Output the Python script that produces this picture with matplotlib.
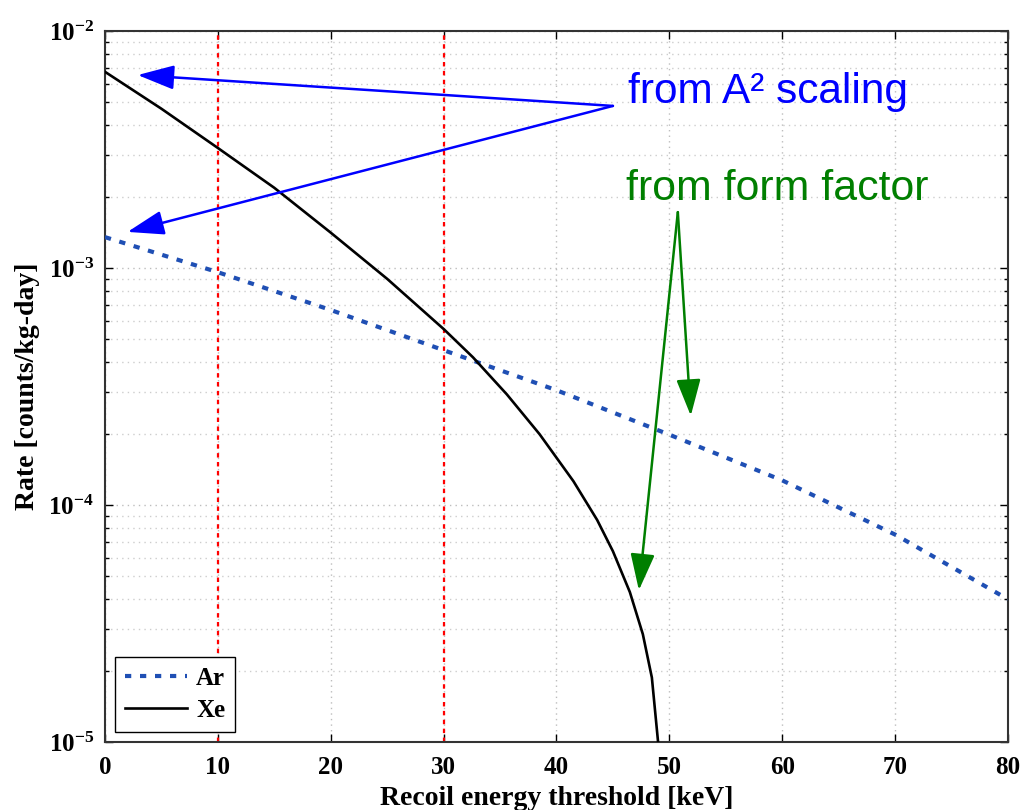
import numpy as np
import matplotlib
matplotlib.use('Agg')
import matplotlib.pyplot as plt
from matplotlib.ticker import FixedLocator, FixedFormatter, LogLocator, NullFormatter

# recoil energy threshold [keV] and integrated rate [counts/kg-day]
ar_kev = [0, 10, 20, 30, 40, 50, 60, 70, 80]
ar_rate = [1.35e-3, 9.6e-4, 6.65e-4, 4.5e-4, 3.05e-4, 1.98e-4, 1.27e-4, 7.5e-5, 4.0e-5]

xe_kev = [0, 5, 10, 15, 20, 25, 30, 32.6, 35.6, 38.5, 41.5, 43.6, 45.0,
          46.5, 47.65, 48.45, 49.0]
xe_rate = [6.73e-3, 4.70e-3, 3.21e-3, 2.18e-3, 1.41e-3, 9.0e-4, 5.53e-4, 4.2e-4,
           2.93e-4, 1.99e-4, 1.26e-4, 8.65e-5, 6.38e-5, 4.29e-5, 2.85e-5, 1.87e-5, 1.0e-5]

thresholds = [10, 30]
x_ticks = [0, 10, 20, 30, 40, 50, 60, 70, 80]
y_ticks = [1e-5, 1e-4, 1e-3, 1e-2]
y_ticklabels = [r'$\mathbf{10^{-5}}$', r'$\mathbf{10^{-4}}$', r'$\mathbf{10^{-3}}$', r'$\mathbf{10^{-2}}$']

plt.rcParams['font.family'] = 'Liberation Serif'
plt.rcParams['mathtext.fontset'] = 'custom'
plt.rcParams['mathtext.rm'] = 'Liberation Serif'
plt.rcParams['mathtext.bf'] = 'Liberation Serif:bold'

fig = plt.figure(figsize=(10.22, 8.10), dpi=100)
ax = fig.add_axes([0.1027, 0.084, 0.8836, 0.8777])

ax.set_yscale('log')
ax.set_xlim(0, 80)
ax.set_ylim(1e-5, 1e-2)

# grid like the matlab default
ax.grid(True, which='major', axis='both', linestyle=(0, (1, 3)), color='#bdbdbd', linewidth=1.0)
ax.grid(True, which='minor', axis='y', linestyle=(0, (1, 3)), color='#cdcdcd', linewidth=1.0)

for t in thresholds:
    ax.axvline(t, color='#ff0000', linestyle=(0, (2, 2)), linewidth=1.6, zorder=2)

ax.plot(ar_kev, ar_rate, color='#1f4fb4', linewidth=3.0, linestyle=(0, (1.5, 2.1)),
        label='Ar', zorder=3)
ax.plot(xe_kev, xe_rate, color='black', linewidth=1.9, label='Xe', zorder=3)

ax.xaxis.set_major_locator(FixedLocator(x_ticks))
ax.yaxis.set_major_locator(FixedLocator(y_ticks))
ax.yaxis.set_major_formatter(FixedFormatter(y_ticklabels))
ax.yaxis.set_minor_locator(LogLocator(base=10, subs=np.arange(2, 10)))
ax.yaxis.set_minor_formatter(NullFormatter())
ax.tick_params(which='both', direction='in', top=True, right=True, width=1.0)
ax.tick_params(which='major', length=6, labelsize=18)
ax.tick_params(axis='x', which='major', pad=10)
ax.tick_params(axis='y', which='major', pad=8)
ax.tick_params(which='minor', length=3)
for lab in ax.get_xticklabels():
    lab.set_fontweight('bold')
for sp in ax.spines.values():
    sp.set_linewidth(1.5)
    sp.set_color('#333333')

ax.set_xlabel('Recoil energy threshold [keV]', fontsize=20, fontweight='bold', labelpad=5)
ax.set_ylabel('Rate [counts/kg-day]', fontsize=20, fontweight='bold', labelpad=6)

leg = ax.legend(loc='lower left', fancybox=False, framealpha=1, edgecolor='black',
                prop={'size': 18, 'weight': 'bold'}, handlelength=2.5,
                borderaxespad=0.4, handletextpad=0.35, labelspacing=0.35,
                borderpad=0.4)
leg.get_frame().set_linewidth(1.0)

# annotations
ax.text(46.3, 4.97e-3, 'from A² scaling', color='#0000ff', fontsize=30.5,
        family='Liberation Sans', va='baseline', ha='left')
ax.text(46.2, 1.94e-3, 'from form factor', color='#007f00', fontsize=30.8,
        family='Liberation Sans', va='baseline', ha='left')

arrow_kw = dict(arrowstyle='-|>,head_length=1.5,head_width=0.5', mutation_scale=15,
                shrinkA=0, shrinkB=0, linewidth=1.8)
for tip in [(2.9, 6.52e-3), (2.0, 1.42e-3)]:
    ax.annotate('', xy=tip, xytext=(45.0, 4.83e-3),
                arrowprops=dict(color='#0000ff', **arrow_kw))
for tip in [(51.9, 2.38e-4), (47.3, 4.37e-5)]:
    ax.annotate('', xy=tip, xytext=(50.75, 1.72e-3),
                arrowprops=dict(color='#007f00', **arrow_kw))

plt.savefig('out.png', dpi=100)
